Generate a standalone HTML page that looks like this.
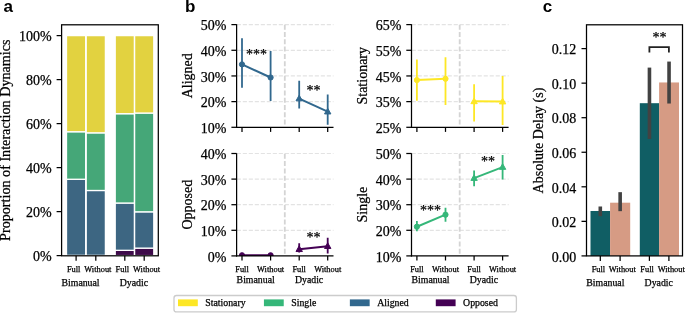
<!DOCTYPE html>
<html><head><meta charset="utf-8"><style>
html,body{margin:0;padding:0;background:#fff;}
body{width:685px;height:313px;overflow:hidden;}
svg{display:block;will-change:transform;}
text{fill:#000;stroke:#000;stroke-width:0.25px;}
</style></head><body>
<svg width="685" height="313" viewBox="0 0 685 313">
<text x="3.50" y="12.20" font-size="17" text-anchor="start" font-family='"Liberation Sans", sans-serif' font-weight="bold" style="stroke-width:0">a</text>
<text x="185.00" y="12.20" font-size="17" text-anchor="start" font-family='"Liberation Sans", sans-serif' font-weight="bold" style="stroke-width:0">b</text>
<text x="542.80" y="12.40" font-size="17" text-anchor="start" font-family='"Liberation Sans", sans-serif' font-weight="bold" style="stroke-width:0">c</text>
<rect x="66.50" y="255.38" width="19.20" height="0.22" fill="#3e0b4a" stroke="#fff" stroke-width="1.3"/>
<rect x="66.50" y="179.26" width="19.20" height="76.12" fill="#3d6682" stroke="#fff" stroke-width="1.3"/>
<rect x="66.50" y="131.74" width="19.20" height="47.52" fill="#45a778" stroke="#fff" stroke-width="1.3"/>
<rect x="66.50" y="35.60" width="19.20" height="96.14" fill="#e2d240" stroke="#fff" stroke-width="1.3"/>
<rect x="86.20" y="255.38" width="19.20" height="0.22" fill="#3e0b4a" stroke="#fff" stroke-width="1.3"/>
<rect x="86.20" y="190.48" width="19.20" height="64.90" fill="#3d6682" stroke="#fff" stroke-width="1.3"/>
<rect x="86.20" y="132.84" width="19.20" height="57.64" fill="#45a778" stroke="#fff" stroke-width="1.3"/>
<rect x="86.20" y="35.60" width="19.20" height="97.24" fill="#e2d240" stroke="#fff" stroke-width="1.3"/>
<rect x="115.20" y="250.32" width="19.20" height="5.28" fill="#3e0b4a" stroke="#fff" stroke-width="1.3"/>
<rect x="115.20" y="203.02" width="19.20" height="47.30" fill="#3d6682" stroke="#fff" stroke-width="1.3"/>
<rect x="115.20" y="113.70" width="19.20" height="89.32" fill="#45a778" stroke="#fff" stroke-width="1.3"/>
<rect x="115.20" y="35.60" width="19.20" height="78.10" fill="#e2d240" stroke="#fff" stroke-width="1.3"/>
<rect x="134.60" y="248.12" width="19.20" height="7.48" fill="#3e0b4a" stroke="#fff" stroke-width="1.3"/>
<rect x="134.60" y="211.82" width="19.20" height="36.30" fill="#3d6682" stroke="#fff" stroke-width="1.3"/>
<rect x="134.60" y="113.04" width="19.20" height="98.78" fill="#45a778" stroke="#fff" stroke-width="1.3"/>
<rect x="134.60" y="35.60" width="19.20" height="77.44" fill="#e2d240" stroke="#fff" stroke-width="1.3"/>
<rect x="61.60" y="24.80" width="96.70" height="231.00" fill="none" stroke="#000" stroke-width="1.25"/>
<line x1="56.60" y1="255.60" x2="61.60" y2="255.60" stroke="#000" stroke-width="1.25" />
<text x="51.70" y="261.10" font-size="14" text-anchor="end" font-family='"Liberation Serif", serif' font-weight="normal" >0%</text>
<line x1="56.60" y1="211.60" x2="61.60" y2="211.60" stroke="#000" stroke-width="1.25" />
<text x="51.70" y="217.10" font-size="14" text-anchor="end" font-family='"Liberation Serif", serif' font-weight="normal" >20%</text>
<line x1="56.60" y1="167.60" x2="61.60" y2="167.60" stroke="#000" stroke-width="1.25" />
<text x="51.70" y="173.10" font-size="14" text-anchor="end" font-family='"Liberation Serif", serif' font-weight="normal" >40%</text>
<line x1="56.60" y1="123.60" x2="61.60" y2="123.60" stroke="#000" stroke-width="1.25" />
<text x="51.70" y="129.10" font-size="14" text-anchor="end" font-family='"Liberation Serif", serif' font-weight="normal" >60%</text>
<line x1="56.60" y1="79.60" x2="61.60" y2="79.60" stroke="#000" stroke-width="1.25" />
<text x="51.70" y="85.10" font-size="14" text-anchor="end" font-family='"Liberation Serif", serif' font-weight="normal" >80%</text>
<line x1="56.60" y1="35.60" x2="61.60" y2="35.60" stroke="#000" stroke-width="1.25" />
<text x="51.70" y="41.10" font-size="14" text-anchor="end" font-family='"Liberation Serif", serif' font-weight="normal" >100%</text>
<line x1="76.10" y1="255.80" x2="76.10" y2="260.80" stroke="#000" stroke-width="1.25" />
<line x1="95.80" y1="255.80" x2="95.80" y2="260.80" stroke="#000" stroke-width="1.25" />
<line x1="124.80" y1="255.80" x2="124.80" y2="260.80" stroke="#000" stroke-width="1.25" />
<line x1="144.20" y1="255.80" x2="144.20" y2="260.80" stroke="#000" stroke-width="1.25" />
<text x="0" y="0" font-size="14.15" text-anchor="middle" font-family='"Liberation Serif", serif' transform="translate(10.00,140.20) rotate(-90)">Proportion of Interaction Dynamics</text>
<text x="66.90" y="271.80" font-size="8.4" text-anchor="start" font-family='"Liberation Serif", serif' font-weight="normal" >Full</text>
<text x="84.30" y="271.80" font-size="8.4" text-anchor="start" font-family='"Liberation Serif", serif' font-weight="normal" >Without</text>
<text x="115.60" y="271.80" font-size="8.4" text-anchor="start" font-family='"Liberation Serif", serif' font-weight="normal" >Full</text>
<text x="133.00" y="271.80" font-size="8.4" text-anchor="start" font-family='"Liberation Serif", serif' font-weight="normal" >Without</text>
<text x="61.50" y="285.50" font-size="9.8" text-anchor="start" font-family='"Liberation Serif", serif' font-weight="normal" >Bimanual</text>
<text x="119.80" y="285.50" font-size="9.8" text-anchor="start" font-family='"Liberation Serif", serif' font-weight="normal" >Dyadic</text>
<line x1="236.60" y1="101.62" x2="333.50" y2="101.62" stroke="#e3e3e3" stroke-width="1.2" stroke-dasharray="4.1 1.9" stroke-dashoffset="-0.2"/>
<line x1="236.60" y1="75.95" x2="333.50" y2="75.95" stroke="#e3e3e3" stroke-width="1.2" stroke-dasharray="4.1 1.9" stroke-dashoffset="-0.2"/>
<line x1="236.60" y1="50.28" x2="333.50" y2="50.28" stroke="#e3e3e3" stroke-width="1.2" stroke-dasharray="4.1 1.9" stroke-dashoffset="-0.2"/>
<line x1="236.60" y1="24.60" x2="333.50" y2="24.60" stroke="#e3e3e3" stroke-width="1.2" stroke-dasharray="4.1 1.9" stroke-dashoffset="-0.2"/>
<line x1="284.80" y1="24.70" x2="284.80" y2="127.30" stroke="#d4d4d4" stroke-width="1.8" stroke-dasharray="5 2.3"/>
<clipPath id="clip236_127"><rect x="236.60" y="14.20" width="106.90" height="113.10"/></clipPath>
<g clip-path="url(#clip236_127)">
<line x1="242.00" y1="87.76" x2="242.00" y2="38.21" stroke="#31688e" stroke-width="1.8" />
<line x1="270.60" y1="101.11" x2="270.60" y2="51.05" stroke="#31688e" stroke-width="1.8" />
<line x1="299.20" y1="108.56" x2="299.20" y2="80.83" stroke="#31688e" stroke-width="1.8" />
<line x1="327.70" y1="124.73" x2="327.70" y2="94.44" stroke="#31688e" stroke-width="1.8" />
<line x1="242.00" y1="64.40" x2="270.60" y2="77.49" stroke="#31688e" stroke-width="2.0" />
<line x1="299.20" y1="98.54" x2="327.70" y2="111.64" stroke="#31688e" stroke-width="2.0" />
<circle cx="242.00" cy="64.40" r="2.6" fill="#31688e" stroke="#31688e" stroke-width="1"/>
<circle cx="270.60" cy="77.49" r="2.6" fill="#31688e" stroke="#31688e" stroke-width="1"/>
<polygon points="299.20,95.14 296.00,100.84 302.40,100.84" fill="#31688e" stroke="#31688e" stroke-width="1" stroke-linejoin="miter"/>
<polygon points="327.70,108.24 324.50,113.94 330.90,113.94" fill="#31688e" stroke="#31688e" stroke-width="1" stroke-linejoin="miter"/>
</g>
<line x1="236.60" y1="24.20" x2="236.60" y2="127.92" stroke="#000" stroke-width="1.25" />
<line x1="235.97" y1="127.30" x2="333.50" y2="127.30" stroke="#000" stroke-width="1.25" />
<line x1="231.40" y1="127.30" x2="236.60" y2="127.30" stroke="#000" stroke-width="1.25" />
<text x="226.50" y="133.00" font-size="14" text-anchor="end" font-family='"Liberation Serif", serif' font-weight="normal" >10%</text>
<line x1="231.40" y1="101.62" x2="236.60" y2="101.62" stroke="#000" stroke-width="1.25" />
<text x="226.50" y="107.33" font-size="14" text-anchor="end" font-family='"Liberation Serif", serif' font-weight="normal" >20%</text>
<line x1="231.40" y1="75.95" x2="236.60" y2="75.95" stroke="#000" stroke-width="1.25" />
<text x="226.50" y="81.65" font-size="14" text-anchor="end" font-family='"Liberation Serif", serif' font-weight="normal" >30%</text>
<line x1="231.40" y1="50.28" x2="236.60" y2="50.28" stroke="#000" stroke-width="1.25" />
<text x="226.50" y="55.98" font-size="14" text-anchor="end" font-family='"Liberation Serif", serif' font-weight="normal" >40%</text>
<line x1="231.40" y1="24.60" x2="236.60" y2="24.60" stroke="#000" stroke-width="1.25" />
<text x="226.50" y="30.30" font-size="14" text-anchor="end" font-family='"Liberation Serif", serif' font-weight="normal" >50%</text>
<line x1="242.00" y1="127.30" x2="242.00" y2="131.90" stroke="#000" stroke-width="1.25" />
<line x1="270.60" y1="127.30" x2="270.60" y2="131.90" stroke="#000" stroke-width="1.25" />
<line x1="299.20" y1="127.30" x2="299.20" y2="131.90" stroke="#000" stroke-width="1.25" />
<line x1="327.70" y1="127.30" x2="327.70" y2="131.90" stroke="#000" stroke-width="1.25" />
<text x="0" y="0" font-size="14" text-anchor="middle" font-family='"Liberation Serif", serif' transform="translate(192.00,75.75) rotate(-90)">Aligned</text>
<text x="246.10" y="59.10" font-size="14" text-anchor="start" font-family='"Liberation Serif", serif' font-weight="normal" >***</text>
<text x="306.40" y="94.50" font-size="14" text-anchor="start" font-family='"Liberation Serif", serif' font-weight="normal" >**</text>
<line x1="411.50" y1="101.62" x2="508.60" y2="101.62" stroke="#e3e3e3" stroke-width="1.2" stroke-dasharray="4.1 1.9" stroke-dashoffset="-0.2"/>
<line x1="411.50" y1="75.95" x2="508.60" y2="75.95" stroke="#e3e3e3" stroke-width="1.2" stroke-dasharray="4.1 1.9" stroke-dashoffset="-0.2"/>
<line x1="411.50" y1="50.28" x2="508.60" y2="50.28" stroke="#e3e3e3" stroke-width="1.2" stroke-dasharray="4.1 1.9" stroke-dashoffset="-0.2"/>
<line x1="411.50" y1="24.60" x2="508.60" y2="24.60" stroke="#e3e3e3" stroke-width="1.2" stroke-dasharray="4.1 1.9" stroke-dashoffset="-0.2"/>
<line x1="459.70" y1="24.70" x2="459.70" y2="127.30" stroke="#d4d4d4" stroke-width="1.8" stroke-dasharray="5 2.3"/>
<clipPath id="clip411_127"><rect x="411.50" y="14.20" width="107.10" height="113.10"/></clipPath>
<g clip-path="url(#clip411_127)">
<line x1="416.90" y1="100.85" x2="416.90" y2="59.52" stroke="#fde725" stroke-width="1.8" />
<line x1="445.50" y1="104.96" x2="445.50" y2="57.21" stroke="#fde725" stroke-width="1.8" />
<line x1="474.10" y1="121.39" x2="474.10" y2="84.17" stroke="#fde725" stroke-width="1.8" />
<line x1="502.60" y1="124.99" x2="502.60" y2="75.95" stroke="#fde725" stroke-width="1.8" />
<line x1="416.90" y1="80.06" x2="445.50" y2="78.77" stroke="#fde725" stroke-width="2.0" />
<line x1="474.10" y1="101.37" x2="502.60" y2="101.62" stroke="#fde725" stroke-width="2.0" />
<circle cx="416.90" cy="80.06" r="2.6" fill="#fde725" stroke="#fde725" stroke-width="1"/>
<circle cx="445.50" cy="78.77" r="2.6" fill="#fde725" stroke="#fde725" stroke-width="1"/>
<polygon points="474.10,97.97 470.90,103.67 477.30,103.67" fill="#fde725" stroke="#fde725" stroke-width="1" stroke-linejoin="miter"/>
<polygon points="502.60,98.22 499.40,103.92 505.80,103.92" fill="#fde725" stroke="#fde725" stroke-width="1" stroke-linejoin="miter"/>
</g>
<line x1="411.50" y1="24.20" x2="411.50" y2="127.92" stroke="#000" stroke-width="1.25" />
<line x1="410.88" y1="127.30" x2="508.60" y2="127.30" stroke="#000" stroke-width="1.25" />
<line x1="406.30" y1="127.30" x2="411.50" y2="127.30" stroke="#000" stroke-width="1.25" />
<text x="401.40" y="133.00" font-size="14" text-anchor="end" font-family='"Liberation Serif", serif' font-weight="normal" >25%</text>
<line x1="406.30" y1="101.62" x2="411.50" y2="101.62" stroke="#000" stroke-width="1.25" />
<text x="401.40" y="107.33" font-size="14" text-anchor="end" font-family='"Liberation Serif", serif' font-weight="normal" >35%</text>
<line x1="406.30" y1="75.95" x2="411.50" y2="75.95" stroke="#000" stroke-width="1.25" />
<text x="401.40" y="81.65" font-size="14" text-anchor="end" font-family='"Liberation Serif", serif' font-weight="normal" >45%</text>
<line x1="406.30" y1="50.28" x2="411.50" y2="50.28" stroke="#000" stroke-width="1.25" />
<text x="401.40" y="55.98" font-size="14" text-anchor="end" font-family='"Liberation Serif", serif' font-weight="normal" >55%</text>
<line x1="406.30" y1="24.60" x2="411.50" y2="24.60" stroke="#000" stroke-width="1.25" />
<text x="401.40" y="30.30" font-size="14" text-anchor="end" font-family='"Liberation Serif", serif' font-weight="normal" >65%</text>
<line x1="416.90" y1="127.30" x2="416.90" y2="131.90" stroke="#000" stroke-width="1.25" />
<line x1="445.50" y1="127.30" x2="445.50" y2="131.90" stroke="#000" stroke-width="1.25" />
<line x1="474.10" y1="127.30" x2="474.10" y2="131.90" stroke="#000" stroke-width="1.25" />
<line x1="502.60" y1="127.30" x2="502.60" y2="131.90" stroke="#000" stroke-width="1.25" />
<text x="0" y="0" font-size="14" text-anchor="middle" font-family='"Liberation Serif", serif' transform="translate(366.80,75.75) rotate(-90)">Stationary</text>
<line x1="236.60" y1="230.30" x2="333.50" y2="230.30" stroke="#e3e3e3" stroke-width="1.2" stroke-dasharray="4.1 1.9" stroke-dashoffset="-0.2"/>
<line x1="236.60" y1="204.70" x2="333.50" y2="204.70" stroke="#e3e3e3" stroke-width="1.2" stroke-dasharray="4.1 1.9" stroke-dashoffset="-0.2"/>
<line x1="236.60" y1="179.10" x2="333.50" y2="179.10" stroke="#e3e3e3" stroke-width="1.2" stroke-dasharray="4.1 1.9" stroke-dashoffset="-0.2"/>
<line x1="236.60" y1="153.50" x2="333.50" y2="153.50" stroke="#e3e3e3" stroke-width="1.2" stroke-dasharray="4.1 1.9" stroke-dashoffset="-0.2"/>
<line x1="284.80" y1="153.80" x2="284.80" y2="255.90" stroke="#d4d4d4" stroke-width="1.8" stroke-dasharray="5 2.3"/>
<clipPath id="clip236_255"><rect x="236.60" y="143.30" width="106.90" height="112.60"/></clipPath>
<g clip-path="url(#clip236_255)">
<line x1="242.00" y1="255.90" x2="242.00" y2="254.62" stroke="#440154" stroke-width="1.8" />
<line x1="270.60" y1="255.90" x2="270.60" y2="254.62" stroke="#440154" stroke-width="1.8" />
<line x1="299.20" y1="252.57" x2="299.20" y2="243.36" stroke="#440154" stroke-width="1.8" />
<line x1="327.70" y1="253.60" x2="327.70" y2="237.72" stroke="#440154" stroke-width="1.8" />
<line x1="242.00" y1="255.26" x2="270.60" y2="255.26" stroke="#440154" stroke-width="2.0" />
<line x1="299.20" y1="249.24" x2="327.70" y2="246.17" stroke="#440154" stroke-width="2.0" />
<circle cx="242.00" cy="255.26" r="2.6" fill="#440154" stroke="#440154" stroke-width="1"/>
<circle cx="270.60" cy="255.26" r="2.6" fill="#440154" stroke="#440154" stroke-width="1"/>
<polygon points="299.20,245.84 296.00,251.54 302.40,251.54" fill="#440154" stroke="#440154" stroke-width="1" stroke-linejoin="miter"/>
<polygon points="327.70,242.77 324.50,248.47 330.90,248.47" fill="#440154" stroke="#440154" stroke-width="1" stroke-linejoin="miter"/>
</g>
<line x1="236.60" y1="153.30" x2="236.60" y2="256.52" stroke="#000" stroke-width="1.25" />
<line x1="235.97" y1="255.90" x2="333.50" y2="255.90" stroke="#000" stroke-width="1.25" />
<line x1="231.40" y1="255.90" x2="236.60" y2="255.90" stroke="#000" stroke-width="1.25" />
<text x="226.50" y="261.60" font-size="14" text-anchor="end" font-family='"Liberation Serif", serif' font-weight="normal" >0%</text>
<line x1="231.40" y1="230.30" x2="236.60" y2="230.30" stroke="#000" stroke-width="1.25" />
<text x="226.50" y="236.00" font-size="14" text-anchor="end" font-family='"Liberation Serif", serif' font-weight="normal" >10%</text>
<line x1="231.40" y1="204.70" x2="236.60" y2="204.70" stroke="#000" stroke-width="1.25" />
<text x="226.50" y="210.40" font-size="14" text-anchor="end" font-family='"Liberation Serif", serif' font-weight="normal" >20%</text>
<line x1="231.40" y1="179.10" x2="236.60" y2="179.10" stroke="#000" stroke-width="1.25" />
<text x="226.50" y="184.80" font-size="14" text-anchor="end" font-family='"Liberation Serif", serif' font-weight="normal" >30%</text>
<line x1="231.40" y1="153.50" x2="236.60" y2="153.50" stroke="#000" stroke-width="1.25" />
<text x="226.50" y="159.20" font-size="14" text-anchor="end" font-family='"Liberation Serif", serif' font-weight="normal" >40%</text>
<line x1="242.00" y1="255.90" x2="242.00" y2="260.50" stroke="#000" stroke-width="1.25" />
<line x1="270.60" y1="255.90" x2="270.60" y2="260.50" stroke="#000" stroke-width="1.25" />
<line x1="299.20" y1="255.90" x2="299.20" y2="260.50" stroke="#000" stroke-width="1.25" />
<line x1="327.70" y1="255.90" x2="327.70" y2="260.50" stroke="#000" stroke-width="1.25" />
<text x="0" y="0" font-size="14" text-anchor="middle" font-family='"Liberation Serif", serif' transform="translate(192.00,204.60) rotate(-90)">Opposed</text>
<text x="242.00" y="271.90" font-size="8.4" text-anchor="middle" font-family='"Liberation Serif", serif' font-weight="normal" >Full</text>
<text x="270.60" y="271.90" font-size="8.4" text-anchor="middle" font-family='"Liberation Serif", serif' font-weight="normal" >Without</text>
<text x="299.20" y="271.90" font-size="8.4" text-anchor="middle" font-family='"Liberation Serif", serif' font-weight="normal" >Full</text>
<text x="327.70" y="271.90" font-size="8.4" text-anchor="middle" font-family='"Liberation Serif", serif' font-weight="normal" >Without</text>
<text x="236.61" y="283.30" font-size="9.8" text-anchor="start" font-family='"Liberation Serif", serif' font-weight="normal" >Bimanual</text>
<text x="294.91" y="283.30" font-size="9.8" text-anchor="start" font-family='"Liberation Serif", serif' font-weight="normal" >Dyadic</text>
<text x="306.50" y="241.80" font-size="14" text-anchor="start" font-family='"Liberation Serif", serif' font-weight="normal" >**</text>
<line x1="411.50" y1="230.30" x2="508.60" y2="230.30" stroke="#e3e3e3" stroke-width="1.2" stroke-dasharray="4.1 1.9" stroke-dashoffset="-0.2"/>
<line x1="411.50" y1="204.70" x2="508.60" y2="204.70" stroke="#e3e3e3" stroke-width="1.2" stroke-dasharray="4.1 1.9" stroke-dashoffset="-0.2"/>
<line x1="411.50" y1="179.10" x2="508.60" y2="179.10" stroke="#e3e3e3" stroke-width="1.2" stroke-dasharray="4.1 1.9" stroke-dashoffset="-0.2"/>
<line x1="411.50" y1="153.50" x2="508.60" y2="153.50" stroke="#e3e3e3" stroke-width="1.2" stroke-dasharray="4.1 1.9" stroke-dashoffset="-0.2"/>
<line x1="459.70" y1="153.80" x2="459.70" y2="255.90" stroke="#d4d4d4" stroke-width="1.8" stroke-dasharray="5 2.3"/>
<clipPath id="clip411_255"><rect x="411.50" y="143.30" width="107.10" height="112.60"/></clipPath>
<g clip-path="url(#clip411_255)">
<line x1="416.90" y1="231.32" x2="416.90" y2="221.08" stroke="#35b779" stroke-width="1.8" />
<line x1="445.50" y1="221.85" x2="445.50" y2="207.77" stroke="#35b779" stroke-width="1.8" />
<line x1="474.10" y1="186.27" x2="474.10" y2="170.40" stroke="#35b779" stroke-width="1.8" />
<line x1="502.60" y1="179.61" x2="502.60" y2="155.04" stroke="#35b779" stroke-width="1.8" />
<line x1="416.90" y1="226.72" x2="445.50" y2="214.68" stroke="#35b779" stroke-width="2.0" />
<line x1="474.10" y1="178.08" x2="502.60" y2="167.07" stroke="#35b779" stroke-width="2.0" />
<circle cx="416.90" cy="226.72" r="2.6" fill="#35b779" stroke="#35b779" stroke-width="1"/>
<circle cx="445.50" cy="214.68" r="2.6" fill="#35b779" stroke="#35b779" stroke-width="1"/>
<polygon points="474.10,174.68 470.90,180.38 477.30,180.38" fill="#35b779" stroke="#35b779" stroke-width="1" stroke-linejoin="miter"/>
<polygon points="502.60,163.67 499.40,169.37 505.80,169.37" fill="#35b779" stroke="#35b779" stroke-width="1" stroke-linejoin="miter"/>
</g>
<line x1="411.50" y1="153.30" x2="411.50" y2="256.52" stroke="#000" stroke-width="1.25" />
<line x1="410.88" y1="255.90" x2="508.60" y2="255.90" stroke="#000" stroke-width="1.25" />
<line x1="406.30" y1="255.90" x2="411.50" y2="255.90" stroke="#000" stroke-width="1.25" />
<text x="401.40" y="261.60" font-size="14" text-anchor="end" font-family='"Liberation Serif", serif' font-weight="normal" >10%</text>
<line x1="406.30" y1="230.30" x2="411.50" y2="230.30" stroke="#000" stroke-width="1.25" />
<text x="401.40" y="236.00" font-size="14" text-anchor="end" font-family='"Liberation Serif", serif' font-weight="normal" >20%</text>
<line x1="406.30" y1="204.70" x2="411.50" y2="204.70" stroke="#000" stroke-width="1.25" />
<text x="401.40" y="210.40" font-size="14" text-anchor="end" font-family='"Liberation Serif", serif' font-weight="normal" >30%</text>
<line x1="406.30" y1="179.10" x2="411.50" y2="179.10" stroke="#000" stroke-width="1.25" />
<text x="401.40" y="184.80" font-size="14" text-anchor="end" font-family='"Liberation Serif", serif' font-weight="normal" >40%</text>
<line x1="406.30" y1="153.50" x2="411.50" y2="153.50" stroke="#000" stroke-width="1.25" />
<text x="401.40" y="159.20" font-size="14" text-anchor="end" font-family='"Liberation Serif", serif' font-weight="normal" >50%</text>
<line x1="416.90" y1="255.90" x2="416.90" y2="260.50" stroke="#000" stroke-width="1.25" />
<line x1="445.50" y1="255.90" x2="445.50" y2="260.50" stroke="#000" stroke-width="1.25" />
<line x1="474.10" y1="255.90" x2="474.10" y2="260.50" stroke="#000" stroke-width="1.25" />
<line x1="502.60" y1="255.90" x2="502.60" y2="260.50" stroke="#000" stroke-width="1.25" />
<text x="0" y="0" font-size="14" text-anchor="middle" font-family='"Liberation Serif", serif' transform="translate(366.80,204.60) rotate(-90)">Single</text>
<text x="416.90" y="271.90" font-size="8.4" text-anchor="middle" font-family='"Liberation Serif", serif' font-weight="normal" >Full</text>
<text x="445.50" y="271.90" font-size="8.4" text-anchor="middle" font-family='"Liberation Serif", serif' font-weight="normal" >Without</text>
<text x="474.10" y="271.90" font-size="8.4" text-anchor="middle" font-family='"Liberation Serif", serif' font-weight="normal" >Full</text>
<text x="502.60" y="271.90" font-size="8.4" text-anchor="middle" font-family='"Liberation Serif", serif' font-weight="normal" >Without</text>
<text x="411.51" y="283.30" font-size="9.8" text-anchor="start" font-family='"Liberation Serif", serif' font-weight="normal" >Bimanual</text>
<text x="469.81" y="283.30" font-size="9.8" text-anchor="start" font-family='"Liberation Serif", serif' font-weight="normal" >Dyadic</text>
<text x="420.00" y="214.90" font-size="14" text-anchor="start" font-family='"Liberation Serif", serif' font-weight="normal" >***</text>
<text x="480.90" y="165.80" font-size="14" text-anchor="start" font-family='"Liberation Serif", serif' font-weight="normal" >**</text>
<rect x="590.50" y="210.99" width="19.60" height="44.91" fill="#105e64" />
<rect x="610.10" y="202.69" width="20.10" height="53.21" fill="#d69b84" />
<rect x="639.80" y="103.19" width="19.30" height="152.71" fill="#105e64" />
<rect x="659.10" y="82.46" width="19.90" height="173.44" fill="#d69b84" />
<line x1="600.30" y1="216.17" x2="600.30" y2="206.49" stroke="#424242" stroke-width="3.6" />
<line x1="620.15" y1="211.16" x2="620.15" y2="192.16" stroke="#424242" stroke-width="3.6" />
<line x1="649.45" y1="138.95" x2="649.45" y2="67.60" stroke="#424242" stroke-width="3.6" />
<line x1="669.05" y1="103.53" x2="669.05" y2="61.56" stroke="#424242" stroke-width="3.6" />
<rect x="586.50" y="24.80" width="96.00" height="231.10" fill="none" stroke="#000" stroke-width="1.25"/>
<line x1="581.50" y1="255.90" x2="586.50" y2="255.90" stroke="#000" stroke-width="1.25" />
<text x="576.20" y="261.60" font-size="14" text-anchor="end" font-family='"Liberation Serif", serif' font-weight="normal" >0.00</text>
<line x1="581.50" y1="221.35" x2="586.50" y2="221.35" stroke="#000" stroke-width="1.25" />
<text x="576.20" y="227.05" font-size="14" text-anchor="end" font-family='"Liberation Serif", serif' font-weight="normal" >0.02</text>
<line x1="581.50" y1="186.80" x2="586.50" y2="186.80" stroke="#000" stroke-width="1.25" />
<text x="576.20" y="192.50" font-size="14" text-anchor="end" font-family='"Liberation Serif", serif' font-weight="normal" >0.04</text>
<line x1="581.50" y1="152.25" x2="586.50" y2="152.25" stroke="#000" stroke-width="1.25" />
<text x="576.20" y="157.95" font-size="14" text-anchor="end" font-family='"Liberation Serif", serif' font-weight="normal" >0.06</text>
<line x1="581.50" y1="117.70" x2="586.50" y2="117.70" stroke="#000" stroke-width="1.25" />
<text x="576.20" y="123.40" font-size="14" text-anchor="end" font-family='"Liberation Serif", serif' font-weight="normal" >0.08</text>
<line x1="581.50" y1="83.15" x2="586.50" y2="83.15" stroke="#000" stroke-width="1.25" />
<text x="576.20" y="88.85" font-size="14" text-anchor="end" font-family='"Liberation Serif", serif' font-weight="normal" >0.10</text>
<line x1="581.50" y1="48.60" x2="586.50" y2="48.60" stroke="#000" stroke-width="1.25" />
<text x="576.20" y="54.30" font-size="14" text-anchor="end" font-family='"Liberation Serif", serif' font-weight="normal" >0.12</text>
<line x1="600.30" y1="255.90" x2="600.30" y2="260.90" stroke="#000" stroke-width="1.25" />
<line x1="620.10" y1="255.90" x2="620.10" y2="260.90" stroke="#000" stroke-width="1.25" />
<line x1="649.40" y1="255.90" x2="649.40" y2="260.90" stroke="#000" stroke-width="1.25" />
<line x1="668.90" y1="255.90" x2="668.90" y2="260.90" stroke="#000" stroke-width="1.25" />
<text x="0" y="0" font-size="14" text-anchor="middle" font-family='"Liberation Serif", serif' transform="translate(543.00,140.50) rotate(-90)">Absolute Delay (s)</text>
<text x="591.70" y="271.80" font-size="8.4" text-anchor="start" font-family='"Liberation Serif", serif' font-weight="normal" >Full</text>
<text x="608.70" y="271.80" font-size="8.4" text-anchor="start" font-family='"Liberation Serif", serif' font-weight="normal" >Without</text>
<text x="640.30" y="271.80" font-size="8.4" text-anchor="start" font-family='"Liberation Serif", serif' font-weight="normal" >Full</text>
<text x="657.70" y="271.80" font-size="8.4" text-anchor="start" font-family='"Liberation Serif", serif' font-weight="normal" >Without</text>
<text x="586.30" y="285.50" font-size="9.8" text-anchor="start" font-family='"Liberation Serif", serif' font-weight="normal" >Bimanual</text>
<text x="644.60" y="285.50" font-size="9.8" text-anchor="start" font-family='"Liberation Serif", serif' font-weight="normal" >Dyadic</text>
<polyline points="649.4,52.4 649.4,47.2 668.9,47.2 668.9,52.4" fill="none" stroke="#222" stroke-width="1.8"/>
<text x="652.50" y="42.40" font-size="14" text-anchor="start" font-family='"Liberation Serif", serif' font-weight="normal" >**</text>
<rect x="174.0" y="295.5" width="342.4" height="16.4" rx="2.5" ry="2.5" fill="#fff" stroke="#cccccc" stroke-width="1.3"/>
<rect x="178.00" y="299.40" width="19.80" height="6.80" fill="#fde725" />
<text x="205.31" y="306.00" font-size="9.8" text-anchor="start" font-family='"Liberation Serif", serif' font-weight="normal" >Stationary</text>
<rect x="263.93" y="299.40" width="19.80" height="6.80" fill="#35b779" />
<text x="291.24" y="306.00" font-size="9.8" text-anchor="start" font-family='"Liberation Serif", serif' font-weight="normal" >Single</text>
<rect x="349.86" y="299.40" width="19.80" height="6.80" fill="#31688e" />
<text x="377.17" y="306.00" font-size="9.8" text-anchor="start" font-family='"Liberation Serif", serif' font-weight="normal" >Aligned</text>
<rect x="435.79" y="299.40" width="19.80" height="6.80" fill="#440154" />
<text x="463.10" y="306.00" font-size="9.8" text-anchor="start" font-family='"Liberation Serif", serif' font-weight="normal" >Opposed</text>
</svg>
</body></html>
